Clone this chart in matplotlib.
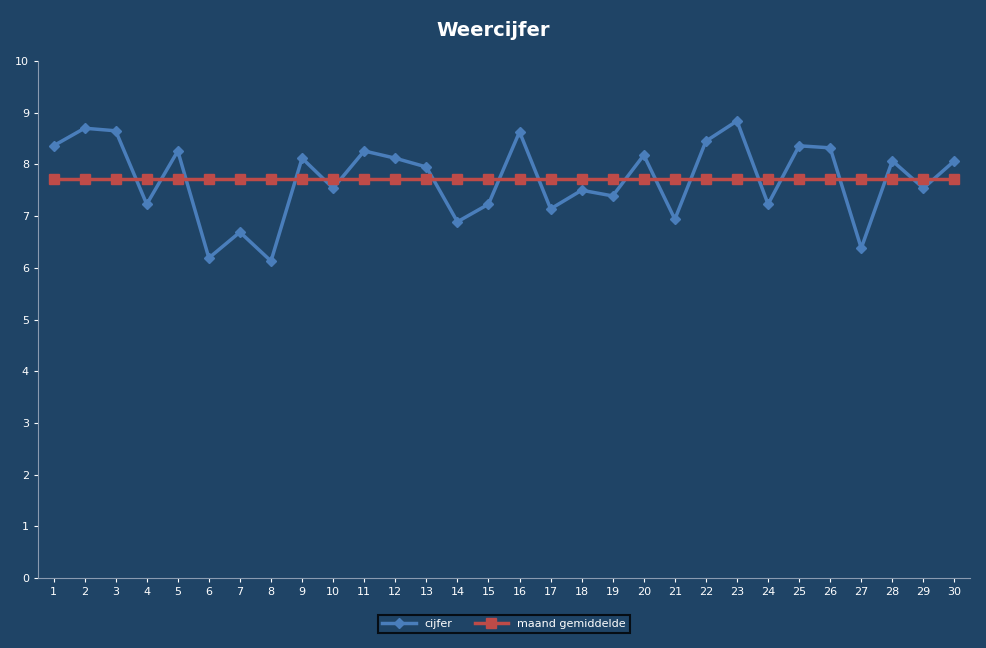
import matplotlib

matplotlib.use("Agg")
import matplotlib.pyplot as plt

days = list(range(1, 31))
cijfer = [8.36, 8.70, 8.65, 7.23, 8.26, 6.19, 6.69, 6.13, 8.12, 7.54,
          8.26, 8.12, 7.95, 6.89, 7.23, 8.63, 7.14, 7.50, 7.39, 8.18,
          6.94, 8.45, 8.84, 7.23, 8.36, 8.32, 6.38, 8.07, 7.54, 8.07]
gemiddelde = [7.72] * 30

BG = "#1f4466"

fig = plt.figure(figsize=(9.87, 6.48), dpi=100, facecolor=BG)
ax = fig.add_axes([38 / 987, 1 - 578 / 648, 932 / 987, 517 / 648], facecolor=BG)

ax.plot(days, cijfer, color="#4a7ebb", lw=2.5, marker="D", ms=5, label="cijfer")
ax.plot(days, gemiddelde, color="#be4b48", lw=2.5, marker="s", ms=7, label="maand gemiddelde")

ax.set_xlim(0.5, 30.5)
ax.set_ylim(0, 10)
ax.set_xticks(days)
ax.set_yticks(range(0, 11))
ax.tick_params(colors="white", labelsize=8, length=3)
for side in ("top", "right"):
    ax.spines[side].set_visible(False)
for side in ("left", "bottom"):
    ax.spines[side].set_color("#8a9bb0")

fig.text(0.5, 1 - 30 / 648, "Weercijfer", color="white", fontsize=14,
         fontweight="bold", ha="center", va="center")

leg = ax.legend(loc="upper center", bbox_to_anchor=(0.5, -0.06), ncol=2,
                frameon=True, fontsize=8, fancybox=False, handlelength=3)
leg.get_frame().set_facecolor(BG)
leg.get_frame().set_edgecolor("black")
leg.get_frame().set_linewidth(1.5)
for t in leg.get_texts():
    t.set_color("white")

fig.savefig("out.png", dpi=100, facecolor=BG)
